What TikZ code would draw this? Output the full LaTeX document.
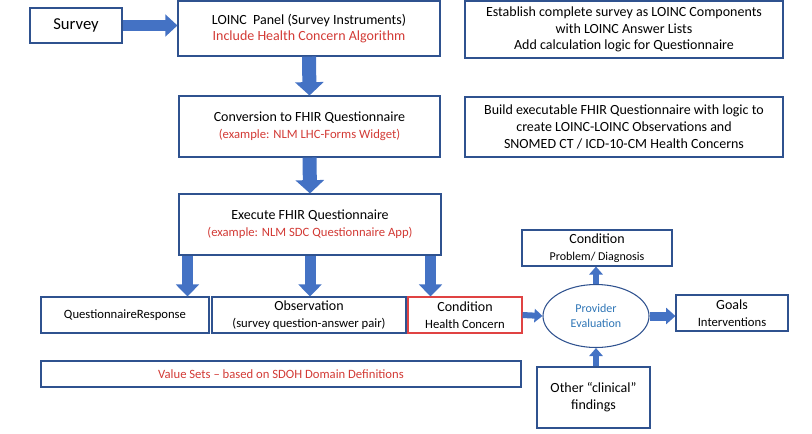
\documentclass[tikz,border=0pt]{standalone}
\usepackage{fontspec}
\setmainfont{Carlito}
\usepackage{xcolor}
\usetikzlibrary{arrows.meta,positioning,shapes.geometric}
\definecolor{boxblue}{HTML}{2F528F}
\definecolor{arrowblue}{HTML}{4472C4}
\definecolor{textred}{HTML}{D23A35}
\definecolor{boxred}{HTML}{E04343}
\definecolor{textblue}{HTML}{2E75B6}

\begin{document}
\begin{tikzpicture}[
    x=0.75pt, y=-0.75pt,
    box/.style={rectangle, draw=boxblue, line width=0.8pt, align=center, inner sep=1pt, font=\fontsize{10.5}{12.6}\selectfont},
    small/.style={font=\fontsize{9.5}{11.5}\selectfont},
    bigarrow/.style={draw=arrowblue, line width=10.5pt, -{Triangle[width=21pt,length=10pt]}},
    midarrow/.style={draw=arrowblue, line width=8.25pt, -{Triangle[width=17pt,length=9pt]}},
    smallarrow/.style={draw=arrowblue, line width=5pt, -{Triangle[width=10pt,length=6pt]}}
]
\useasboundingbox (0,0) rectangle (812,433);

% main chain
\node[box, minimum width=69pt, minimum height=26.25pt, font=\fontsize{12.5}{14}\selectfont] (survey) at (76,25.5) {Survey};
\node[box, minimum width=196.5pt, minimum height=41.25pt] (panel) at (309,28.5)
    {LOINC\ \ Panel (Survey Instruments)\\\textcolor{textred}{Include Health Concern Algorithm}};
\node[box, minimum width=195.75pt, minimum height=45.75pt] (conv) at (309.5,126.5)
    {Conversion to FHIR Questionnaire\\\textcolor{textred}{\fontsize{9.5}{12}\selectfont(example: NLM LHC-Forms Widget)}};
\node[box, minimum width=196.5pt, minimum height=45.75pt] (exec) at (310,224.5)
    {Execute FHIR Questionnaire\\\textcolor{textred}{\fontsize{9.5}{12}\selectfont(example: NLM SDC Questionnaire App)}};

% notes on the right
\node[box, minimum width=238.5pt, minimum height=42.75pt] (estab) at (624,29.5)
    {Establish complete survey as LOINC Components\\with LOINC Answer Lists\\Add calculation logic for Questionnaire};
\node[box, minimum width=238.5pt, minimum height=45pt] (build) at (624,127)
    {Build executable FHIR Questionnaire with logic to\\create LOINC-LOINC Observations and\\SNOMED CT / ICD-10-CM Health Concerns};

% outputs
\node[box, small, minimum width=126pt, minimum height=27pt] (qr) at (125,315) {QuestionnaireResponse};
\node[box, minimum width=145.5pt, minimum height=27pt, inner sep=0pt] (obs) at (309,315)
    {Observation\\{\fontsize{9.5}{11}\selectfont(survey question-answer pair)}};
\node[box, draw=boxred, minimum width=85.5pt, minimum height=27pt, inner sep=0pt] (cond) at (465,315)
    {Condition\\{\fontsize{9.5}{11}\selectfont Health Concern}};
\node[box, small, minimum width=360pt, minimum height=19.5pt, text=textred] (vs) at (281,374)
    {Value Sets -- based on SDOH Domain Definitions};

% evaluation
\node[ellipse, draw=boxblue, line width=0.8pt, minimum width=79.5pt, minimum height=47.25pt, inner sep=0pt,
    align=center, text=textblue, font=\fontsize{9}{11}\selectfont] (eval) at (596,316) {Provider\\Evaluation};
\node[box, minimum width=112.5pt, minimum height=27pt, inner sep=0pt] (prob) at (597,248)
    {Condition\\{\fontsize{9}{11}\selectfont Problem/ Diagnosis}};
\node[box, minimum width=84pt, minimum height=27pt, inner sep=0pt] (goals) at (732,313)
    {Goals\\{\fontsize{9.5}{11}\selectfont Interventions}};
\node[box, minimum width=84.75pt, minimum height=45.75pt] (other) at (593.5,397.5)
    {Other ``clinical''\\findings};

\draw[draw=arrowblue, line width=8pt, -{Triangle[width=16pt,length=9pt]}] (survey.east) -- (survey.east -| panel.west);
\draw[bigarrow] (panel.south) -- (conv.north);
\draw[bigarrow] (conv.south) -- (exec.north);
\draw[midarrow] ([xshift=6.75pt]exec.south west) -- ([xshift=6.75pt]exec.south west |- qr.north);
\draw[midarrow] (exec.south) -- (exec.south |- obs.north);
\draw[midarrow] ([xshift=-8.25pt]exec.south east) -- ([xshift=-8.25pt]exec.south east |- cond.north);
\draw[smallarrow, line width=4.5pt] (cond.east) -- (eval.west);
\draw[smallarrow, line width=6.75pt, -{Triangle[width=12pt,length=7pt]}] (eval.east) -- (eval.east -| goals.west);
\draw[smallarrow] (eval.north) -- (eval.north |- prob.south);
\draw[smallarrow] (eval.south |- other.north) -- (eval.south);
\end{tikzpicture}
\end{document}
